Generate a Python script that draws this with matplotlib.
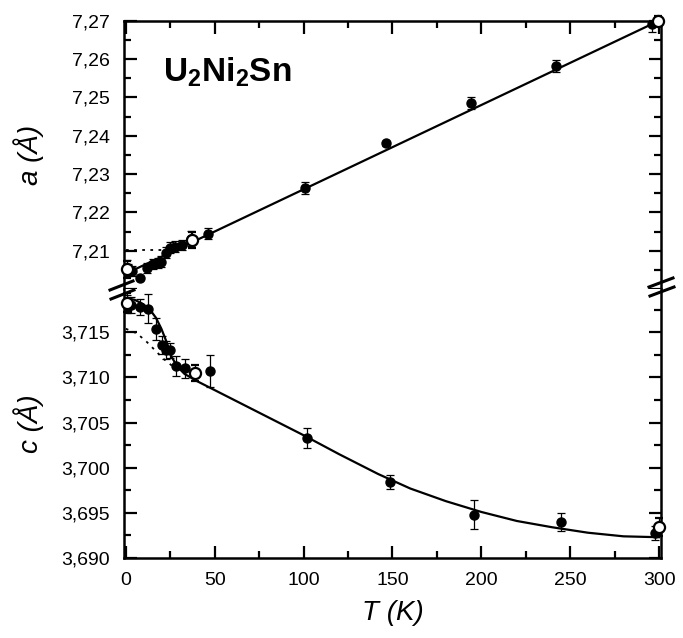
import matplotlib
matplotlib.use("Agg")
import matplotlib.pyplot as plt
from matplotlib.lines import Line2D
from matplotlib.ticker import MultipleLocator, FuncFormatter

plt.rcParams['font.family'] = ['Liberation Sans', 'DejaVu Sans']
plt.rcParams['mathtext.default'] = 'regular'

# lattice parameter a (top panel), filled points
a_T = [0.5, 1.5, 3.5, 8, 12, 15.4, 18.3, 20, 22.7, 25, 27.8, 31.7, 36.8, 46.3,
       100.8, 146.3, 194, 242, 296]
a_val = [7.2055, 7.2050, 7.2047, 7.2029, 7.2055, 7.2066, 7.2068, 7.2071, 7.2095,
         7.2108, 7.2110, 7.2115, 7.2131, 7.2144, 7.2264, 7.2380, 7.2485, 7.2582, 7.2691]
a_err = [0.0020, 0.0015, 0.0012, 0.0, 0.0012, 0.0013, 0.0013, 0.0014, 0.0014,
         0.0014, 0.0014, 0.0012, 0.0020, 0.0014, 0.0015, 0.0006, 0.0015, 0.0015, 0.0020]
# open points
a_T_open = [0.5, 37.5, 299.5]
a_open = [7.2052, 7.2128, 7.2700]
a_err_open = [0.0022, 0.0022, 0.0012]
# fit lines
a_fit_T = [0, 300]
a_fit = [7.2040, 7.2700]
a_dot_T = [0, 27]
a_dot = [7.2102, 7.2102]

# lattice parameter c (bottom panel)
c_T = [0.5, 3.1, 8, 12.6, 17.2, 20.5, 22.7, 25, 28.4, 33.4, 47.5,
       102, 148.6, 196, 244.7, 297.5]
c_val = [3.7181, 3.7180, 3.7178, 3.7176, 3.7154, 3.7136, 3.7130, 3.7130, 3.7113,
         3.7110, 3.7107, 3.7033, 3.6984, 3.6948, 3.6940, 3.6928]
c_err = [0.0010, 0.0009, 0.0009, 0.0016, 0.0012, 0.0010, 0.0010, 0.0008, 0.0011,
         0.0011, 0.0018, 0.0011, 0.0008, 0.0016, 0.0010, 0.0008]
c_T_open = [0.5, 39, 300]
c_open = [3.7183, 3.7105, 3.6934]
c_err_open = [0.0011, 0.0009, 0.0010]
c_fit_T = [0, 5, 10, 14, 17, 20, 23, 26, 29, 33, 40, 48, 60, 80, 100, 120, 142,
           160, 180, 200, 220, 240, 260, 280, 300]
c_fit = [3.7188, 3.7186, 3.7181, 3.7174, 3.7166, 3.7154, 3.7139, 3.7122, 3.7112,
         3.7104, 3.7096, 3.7088, 3.7076, 3.7056, 3.7036, 3.7015, 3.6993,
         3.6977, 3.6963, 3.6951, 3.6941, 3.6934, 3.6928, 3.6924, 3.6923]
c_dot_T = [0, 6, 11, 16, 21, 26]
c_dot = [3.7154, 3.7149, 3.7141, 3.7131, 3.7121, 3.7113]

W, H = 683, 638
fig = plt.figure(figsize=(W / 100, H / 100), dpi=100)
ax_a = fig.add_axes([0.1816, 0.547, 0.786, 0.4206])
ax_c = fig.add_axes([0.1816, 0.1254, 0.786, 0.4216])

lw_sp = 1.8
for ax in (ax_a, ax_c):
    for s in ax.spines.values():
        s.set_linewidth(lw_sp)
    ax.set_xlim(-1, 301)
    ax.xaxis.set_major_locator(MultipleLocator(50))
    ax.xaxis.set_minor_locator(MultipleLocator(25))
    ax.tick_params(which='both', direction='in', width=1.6, labelsize=14, pad=10)
    ax.tick_params(which='major', length=9)
    ax.tick_params(which='minor', length=5)
    ax.tick_params(axis='y', which='both', left=True, right=True)

ax_a.spines['bottom'].set_visible(False)
ax_c.spines['top'].set_visible(False)
ax_a.tick_params(axis='x', which='both', top=True, bottom=False, labelbottom=False)
ax_c.tick_params(axis='x', which='both', top=False, bottom=True)

# top panel
ax_a.set_ylim(7.200, 7.270)
ax_a.yaxis.set_major_locator(MultipleLocator(0.01))
ax_a.yaxis.set_minor_locator(MultipleLocator(0.005))
ax_a.yaxis.set_major_formatter(FuncFormatter(
    lambda v, p: '' if v < 7.205 else f'{v:.2f}'.replace('.', ',')))
ax_a.plot(a_fit_T, a_fit, color='black', lw=1.6, zorder=2)
ax_a.plot(a_dot_T, a_dot, color='black', lw=1.3, ls=(0, (1.5, 3)), zorder=2)
ax_a.errorbar(a_T, a_val, yerr=a_err, fmt='o', color='black', ms=6.5,
              capsize=3.2, elinewidth=0.9, capthick=0.9, zorder=3)
ax_a.errorbar(a_T_open, a_open, yerr=a_err_open, fmt='o', mfc='white', mec='black',
              mew=1.6, ms=8, ecolor='black', capsize=3.2, elinewidth=0.9,
              capthick=0.9, zorder=4, clip_on=False)
ax_a.set_ylabel('a (Å)', fontsize=20, style='italic')
ax_a.text(21, 7.2540, r'U$_2$Ni$_2$Sn', fontsize=24, fontweight='bold',
          va='baseline', ha='left')

# bottom panel
ax_c.set_ylim(3.690, 3.7198)
ax_c.yaxis.set_major_locator(MultipleLocator(0.005))
ax_c.yaxis.set_minor_locator(MultipleLocator(0.0025))
ax_c.yaxis.set_major_formatter(FuncFormatter(
    lambda v, p: f'{v:.3f}'.replace('.', ',')))
ax_c.plot(c_fit_T, c_fit, color='black', lw=1.6, zorder=2)
ax_c.plot(c_dot_T, c_dot, color='black', lw=1.3, ls=(0, (1.5, 3)), zorder=2)
ax_c.errorbar(c_T, c_val, yerr=c_err, fmt='o', color='black', ms=6.5,
              capsize=3.2, elinewidth=0.9, capthick=0.9, zorder=3)
ax_c.errorbar(c_T_open, c_open, yerr=c_err_open, fmt='o', mfc='white', mec='black',
              mew=1.6, ms=8, ecolor='black', capsize=3.2, elinewidth=0.9,
              capthick=0.9, zorder=4, clip_on=False)
ax_c.set_ylabel('c (Å)', fontsize=20, style='italic')
ax_c.set_xlabel('T (K)', fontsize=20, style='italic', labelpad=8)

for ax in (ax_a, ax_c):
    ax.yaxis.set_label_coords(-0.15, 0.5)

# axis-break marks
def px(x, y):
    return x / W, 1 - y / H

for (x0, y0, x1, y1) in [(110, 290, 133, 281), (111, 299, 134, 290),
                         (649, 287, 673, 278), (650, 296, 674, 287)]:
    p0, p1 = px(x0, y0), px(x1, y1)
    fig.add_artist(Line2D([p0[0], p1[0]], [p0[1], p1[1]], color='black', lw=2.2,
                          transform=fig.transFigure))

fig.savefig('out.png', dpi=100)
